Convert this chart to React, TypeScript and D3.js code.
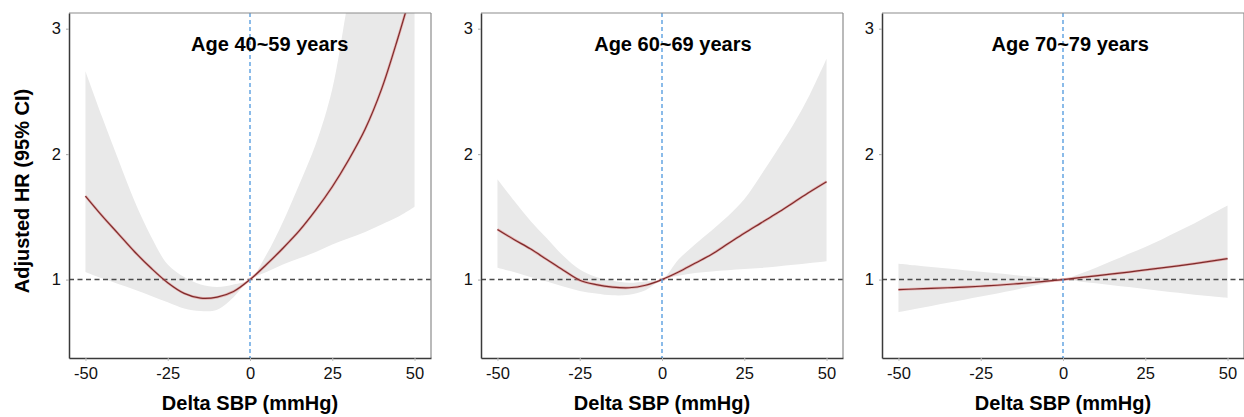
import * as d3 from 'd3';
import { useEffect, useRef } from 'react';

// delta SBP grid shared by all panels
const deltaSbp = [-50, -45, -40, -35, -30, -25, -20, -15, -10, -5, 0, 5, 10, 15, 20, 25, 30, 35, 40, 45, 50];

const panelTitles = ['Age 40~59 years', 'Age 60~69 years', 'Age 70~79 years'];

// Age 40~59
const hr4059 = [1.666, 1.51, 1.365, 1.22, 1.09, 0.975, 0.89, 0.852, 0.86, 0.905, 1.0, 1.12, 1.25, 1.39, 1.555, 1.74, 1.955, 2.2, 2.52, 2.93, 3.38];
const lower4059 = [1.06, 1.01, 0.965, 0.92, 0.87, 0.82, 0.77, 0.75, 0.76, 0.86, 1.0, 1.06, 1.12, 1.17, 1.22, 1.28, 1.33, 1.38, 1.44, 1.5, 1.58];
const upper4059 = [2.66, 2.3, 1.955, 1.62, 1.34, 1.12, 1.02, 0.96, 0.94, 0.96, 1.0, 1.2, 1.46, 1.76, 2.08, 2.52, 3.25, 3.9, 4.7, 5.6, 6.6];

// Age 60~69
const hr6069 = [1.4, 1.32, 1.245, 1.16, 1.075, 0.995, 0.96, 0.94, 0.935, 0.955, 1.0, 1.06, 1.13, 1.2, 1.285, 1.37, 1.45, 1.53, 1.615, 1.7, 1.78];
const lower6069 = [1.095, 1.06, 1.02, 0.985, 0.945, 0.91, 0.89, 0.875, 0.88, 0.915, 1.0, 1.03, 1.053, 1.065, 1.075, 1.085, 1.093, 1.105, 1.118, 1.132, 1.146];
const upper6069 = [1.8, 1.63, 1.47, 1.33, 1.19, 1.08, 1.02, 0.99, 0.975, 0.985, 1.0, 1.16, 1.28, 1.39, 1.505, 1.64, 1.83, 2.03, 2.24, 2.48, 2.76];

// Age 70~79
const hr7079 = [0.92, 0.925, 0.93, 0.935, 0.94, 0.947, 0.955, 0.965, 0.975, 0.987, 1.0, 1.015, 1.03, 1.045, 1.06, 1.077, 1.093, 1.11, 1.128, 1.147, 1.167];
const lower7079 = [0.74, 0.765, 0.79, 0.815, 0.84, 0.865, 0.89, 0.915, 0.945, 0.972, 1.0, 0.985, 0.97, 0.955, 0.94, 0.925, 0.91, 0.895, 0.88, 0.867, 0.854];
const upper7079 = [1.127, 1.114, 1.1, 1.088, 1.075, 1.062, 1.05, 1.037, 1.025, 1.012, 1.0, 1.045, 1.095, 1.15, 1.205, 1.26, 1.32, 1.385, 1.45, 1.52, 1.59];

const xTicks = [-50, -25, 0, 25, 50];
const yTicks = [1, 2, 3];

const FONT = '"Liberation Sans", Arial, sans-serif';

const App = () => {
  const svgRef = useRef(null);

  useEffect(() => {
    const svg = d3.select(svgRef.current);
    svg.selectAll('*').remove();

    const panelLeft = [69, 481, 882];
    const titleAt = [6, 3.3, 2.2];
    const panelW = 362;
    const top = 13;
    const bottom = 358;

    const series = [
      { hr: hr4059, lo: lower4059, hi: upper4059 },
      { hr: hr6069, lo: lower6069, hi: upper6069 },
      { hr: hr7079, lo: lower7079, hi: upper7079 },
    ];

    const y = d3.scaleLinear().domain([0.375, 3.125]).range([bottom, top]);

    series.forEach((s, i) => {
      const left = panelLeft[i];
      const x = d3.scaleLinear().domain([-55, 55]).range([left, left + panelW]);
      const g = svg.append('g');

      const clipId = `clip-${i}`;
      svg.append('clipPath').attr('id', clipId)
        .append('rect')
        .attr('x', left).attr('y', top)
        .attr('width', panelW).attr('height', bottom - top);

      const rows = deltaSbp.map((d, k) => ({ x: d, hr: s.hr[k], lo: s.lo[k], hi: s.hi[k] }));

      const area = d3.area()
        .x(d => x(d.x))
        .y0(d => y(d.lo))
        .y1(d => y(d.hi))
        .curve(d3.curveCatmullRom.alpha(0.5));

      const line = d3.line()
        .x(d => x(d.x))
        .y(d => y(d.hr))
        .curve(d3.curveCatmullRom.alpha(0.5));

      const inner = g.append('g').attr('clip-path', `url(#${clipId})`);

      inner.append('path')
        .attr('d', area(rows))
        .style('fill', '#e9e9e9');

      // reference lines
      inner.append('line')
        .attr('x1', left).attr('x2', left + panelW)
        .attr('y1', y(1)).attr('y2', y(1))
        .style('stroke', '#4a4a4a')
        .style('stroke-width', 1.5)
        .style('stroke-dasharray', '5,3.5');

      inner.append('path')
        .attr('d', line(rows))
        .style('fill', 'none')
        .style('stroke', '#e07a7a')
        .style('stroke-opacity', 0.55)
        .style('stroke-width', 2.6);

      inner.append('path')
        .attr('d', line(rows))
        .style('fill', 'none')
        .style('stroke', '#7d2b2b')
        .style('stroke-width', 1.2);

      inner.append('line')
        .attr('x1', x(0)).attr('x2', x(0))
        .attr('y1', top).attr('y2', bottom)
        .style('stroke', '#5a9fe0')
        .style('stroke-width', 1.4)
        .style('stroke-dasharray', '4,3');

      // frame
      g.append('line')
        .attr('x1', left).attr('x2', left + panelW)
        .attr('y1', top).attr('y2', top)
        .style('stroke', '#8c8c8c').style('stroke-width', 1.2);
      g.append('line')
        .attr('x1', left + panelW).attr('x2', left + panelW)
        .attr('y1', top).attr('y2', bottom)
        .style('stroke', '#8c8c8c').style('stroke-width', 1.2);

      // y axis
      const yAxis = g.append('g')
        .attr('transform', `translate(${left}, 0)`)
        .call(d3.axisLeft(y).tickValues(yTicks).tickFormat(d => String(d)).tickSize(3).tickSizeOuter(0).tickPadding(5));
      yAxis.select('.domain').style('stroke', '#3a3a3a').style('stroke-width', 1.5);
      yAxis.selectAll('.tick line').style('stroke', '#aaa');
      yAxis.selectAll('text')
        .style('font-family', FONT)
        .style('font-size', '16.5px')
        .style('fill', '#111');

      // x axis
      const xAxis = g.append('g')
        .attr('transform', `translate(0, ${bottom})`)
        .call(d3.axisBottom(x).tickValues(xTicks).tickFormat(d => String(d)).tickSize(3).tickSizeOuter(0).tickPadding(6));
      xAxis.select('.domain').style('stroke', '#3a3a3a').style('stroke-width', 1.5);
      xAxis.selectAll('.tick line').style('stroke', '#bbb');
      xAxis.selectAll('text')
        .style('font-family', FONT)
        .style('font-size', '16.5px')
        .style('fill', '#111');

      g.append('text')
        .attr('x', x(titleAt[i]))
        .attr('y', 51)
        .attr('text-anchor', 'middle')
        .style('font-family', FONT)
        .style('font-weight', 'bold')
        .style('font-size', '20px')
        .style('fill', '#000')
        .text(panelTitles[i]);

      g.append('text')
        .attr('x', left + panelW / 2)
        .attr('y', 410)
        .attr('text-anchor', 'middle')
        .style('font-family', FONT)
        .style('font-weight', 'bold')
        .style('font-size', '20px')
        .style('fill', '#000')
        .text('Delta SBP (mmHg)');
    });

    svg.append('text')
      .attr('transform', 'translate(29, 191) rotate(-90)')
      .attr('text-anchor', 'middle')
      .style('font-family', FONT)
      .style('font-weight', 'bold')
      .style('font-size', '20px')
      .style('fill', '#000')
      .text('Adjusted HR (95% CI)');
  }, []);

  return (
    <svg ref={svgRef} width={1244} height={417}
      style={{ position: 'absolute', left: 0, top: 0, background: '#fff' }}></svg>
  );
};

export default App;
